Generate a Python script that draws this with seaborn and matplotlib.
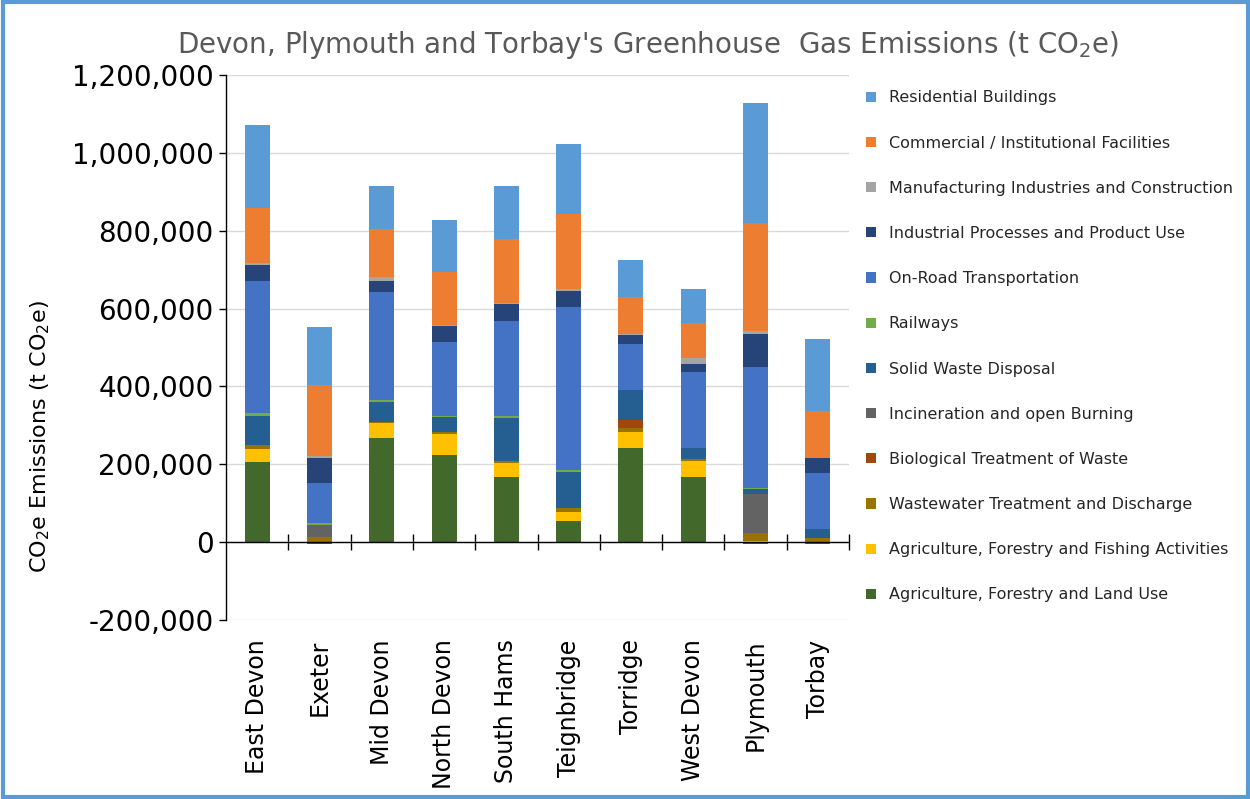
import numpy as np
import pandas as pd
import matplotlib
matplotlib.use("Agg")
import matplotlib.pyplot as plt
from matplotlib.patches import Patch, Rectangle
import seaborn as sns

# ---------------- data (t CO2e) ----------------
categories = ["East Devon", "Exeter", "Mid Devon", "North Devon", "South Hams",
              "Teignbridge", "Torridge", "West Devon", "Plymouth", "Torbay"]

aflu        = [206000, -5000, 267000, 224000, 167000,  54000, 241000, 167000,  -5000,  -5000]
affa        = [ 33000,     0,  39000,  53000,  37000,  23000,  43000,  41000,   3000,      0]
wastewater  = [ 10000, 13000,   3000,   7000,   4000,  11000,  10000,   5000,  21000,  11000]
biological  = [     0,     0,      0,      0,      0,      0,  19000,      0,      0,      0]
incineration= [     0, 31000,      0,      0,      0,      0,      0,      0,  99000,      0]
solid_waste = [ 75000,     0,  50000,  38000, 112000,  93000,  77000,  28000,  13000,  22000]
railways    = [  9000,  4000,   5000,   3000,   4000,   4000,   2000,   2000,   2000,      0]
on_road     = [339000,105000, 278000, 188000, 245000, 418000, 118000, 195000, 312000, 145000]
industrial  = [ 41000, 64000,  30000,  43000,  43000,  43000,  22000,  19000,  85000,  37000]
manufacturing=[  3000,  4000,   8000,   3000,   3000,   3000,   2000,  17000,   8000,   2000]
commercial  = [143000,183000, 125000, 134000, 164000, 193000,  95000,  90000, 276000, 120000]
residential = [212000,148000, 109000, 135000, 135000, 182000,  97000,  86000, 308000, 185000]

# stacking order bottom -> top
series_names = ["Agriculture, Forestry and Land Use",
                "Agriculture, Forestry and Fishing Activities",
                "Wastewater Treatment and Discharge",
                "Biological Treatment of Waste",
                "Incineration and open Burning",
                "Solid Waste Disposal",
                "Railways",
                "On-Road Transportation",
                "Industrial Processes and Product Use",
                "Manufacturing Industries and Construction",
                "Commercial / Institutional Facilities",
                "Residential Buildings"]
series_values = [aflu, affa, wastewater, biological, incineration, solid_waste,
                 railways, on_road, industrial, manufacturing, commercial, residential]
series_colors = ["#43682B", "#FFC000", "#997300", "#9E480E", "#636363", "#255E91",
                 "#70AD47", "#4472C4", "#264478", "#A5A5A5", "#ED7D31", "#5B9BD5"]

yticks = [-200000, 0, 200000, 400000, 600000, 800000, 1000000, 1200000]

# ---------------- figure ----------------
sns.set_style("white")
plt.rcParams["font.family"] = ["DejaVu Sans"]

fig = plt.figure(figsize=(12.5, 7.99), dpi=100)
ax = fig.add_axes([226 / 1250, (799 - 620) / 799, 623 / 1250, 545 / 799])

# cumulative tops of positive stack (negative AFLU drawn separately below zero)
vals = np.array(series_values, dtype=float)
base = vals.copy()
base[0] = np.clip(base[0], 0, None)
cum = np.cumsum(base, axis=0)

# draw from top layer down so lower layers overlay upper cumulative bars
for k in range(len(series_names) - 1, 0, -1):
    df = pd.DataFrame({"cat": categories, "val": cum[k]})
    sns.barplot(data=df, x="cat", y="val", color=series_colors[k], saturation=1,
                width=0.4, errorbar=None, linewidth=0, ax=ax, order=categories)
df0 = pd.DataFrame({"cat": categories, "val": vals[0]})
sns.barplot(data=df0, x="cat", y="val", color=series_colors[0], saturation=1,
            width=0.4, errorbar=None, linewidth=0, ax=ax, order=categories)

ax.set_xlim(-0.5, len(categories) - 0.5)
ax.set_ylim(yticks[0], yticks[-1])
ax.set_yticks(yticks)
ax.set_yticklabels([f"{v:,}" for v in yticks], fontsize=20, color="#000000")
ax.yaxis.grid(True, color="#D9D9D9", linewidth=1)
ax.set_axisbelow(True)

ax.set_xticks(range(len(categories)))
ax.set_xticklabels(categories, rotation=90, fontsize=17, color="#000000")
ax.tick_params(axis="x", length=0, pad=14)
ax.tick_params(axis="y", length=5, width=1, color="#000000", pad=4, direction="out", left=True)
ax.set_xlabel("")
ax.set_ylabel("")

for s in ["top", "right", "bottom"]:
    ax.spines[s].set_visible(False)
ax.spines["left"].set_color("#000000")
ax.spines["left"].set_linewidth(1)

# category axis at zero with crossing tick marks between categories
ax.axhline(0, color="#000000", linewidth=1, zorder=5)
zero_loc = (0 - yticks[0]) / (yticks[-1] - yticks[0])
sec = ax.secondary_xaxis(zero_loc)
sec.set_xticks([i + 0.5 for i in range(len(categories))])
sec.set_xticklabels([])
sec.tick_params(axis="x", direction="inout", length=12, width=1, color="#000000")
sec.spines["bottom"].set_visible(False)

# titles
fig.text(648 / 1250, 1 - 45 / 799,
         "Devon, Plymouth and Torbay's Greenhouse  Gas Emissions (t CO$_2$e)",
         ha="center", va="center", fontsize=20, color="#595959")
fig.text(40 / 1250, 1 - 437 / 799, "CO$_2$e Emissions (t CO$_2$e)",
         rotation=90, ha="center", va="center", fontsize=16, color="#000000")

# legend (top = Residential)
handles = [Patch(facecolor=c, edgecolor="none") for c in series_colors[::-1]]
fig.legend(handles, series_names[::-1], loc="upper left",
           bbox_to_anchor=(860 / 1250, 1 - 84 / 799), frameon=False,
           fontsize=11.5, handlelength=0.6, handleheight=0.6,
           handletextpad=0.8, labelspacing=1.89, borderaxespad=0)

# blue frame around the chart
fig.patches.append(Rectangle((0.002, 0.003), 0.996, 0.994, transform=fig.transFigure,
                             fill=False, edgecolor="#5B9BD5", linewidth=3))

fig.savefig("out.png", dpi=100, facecolor="white")
